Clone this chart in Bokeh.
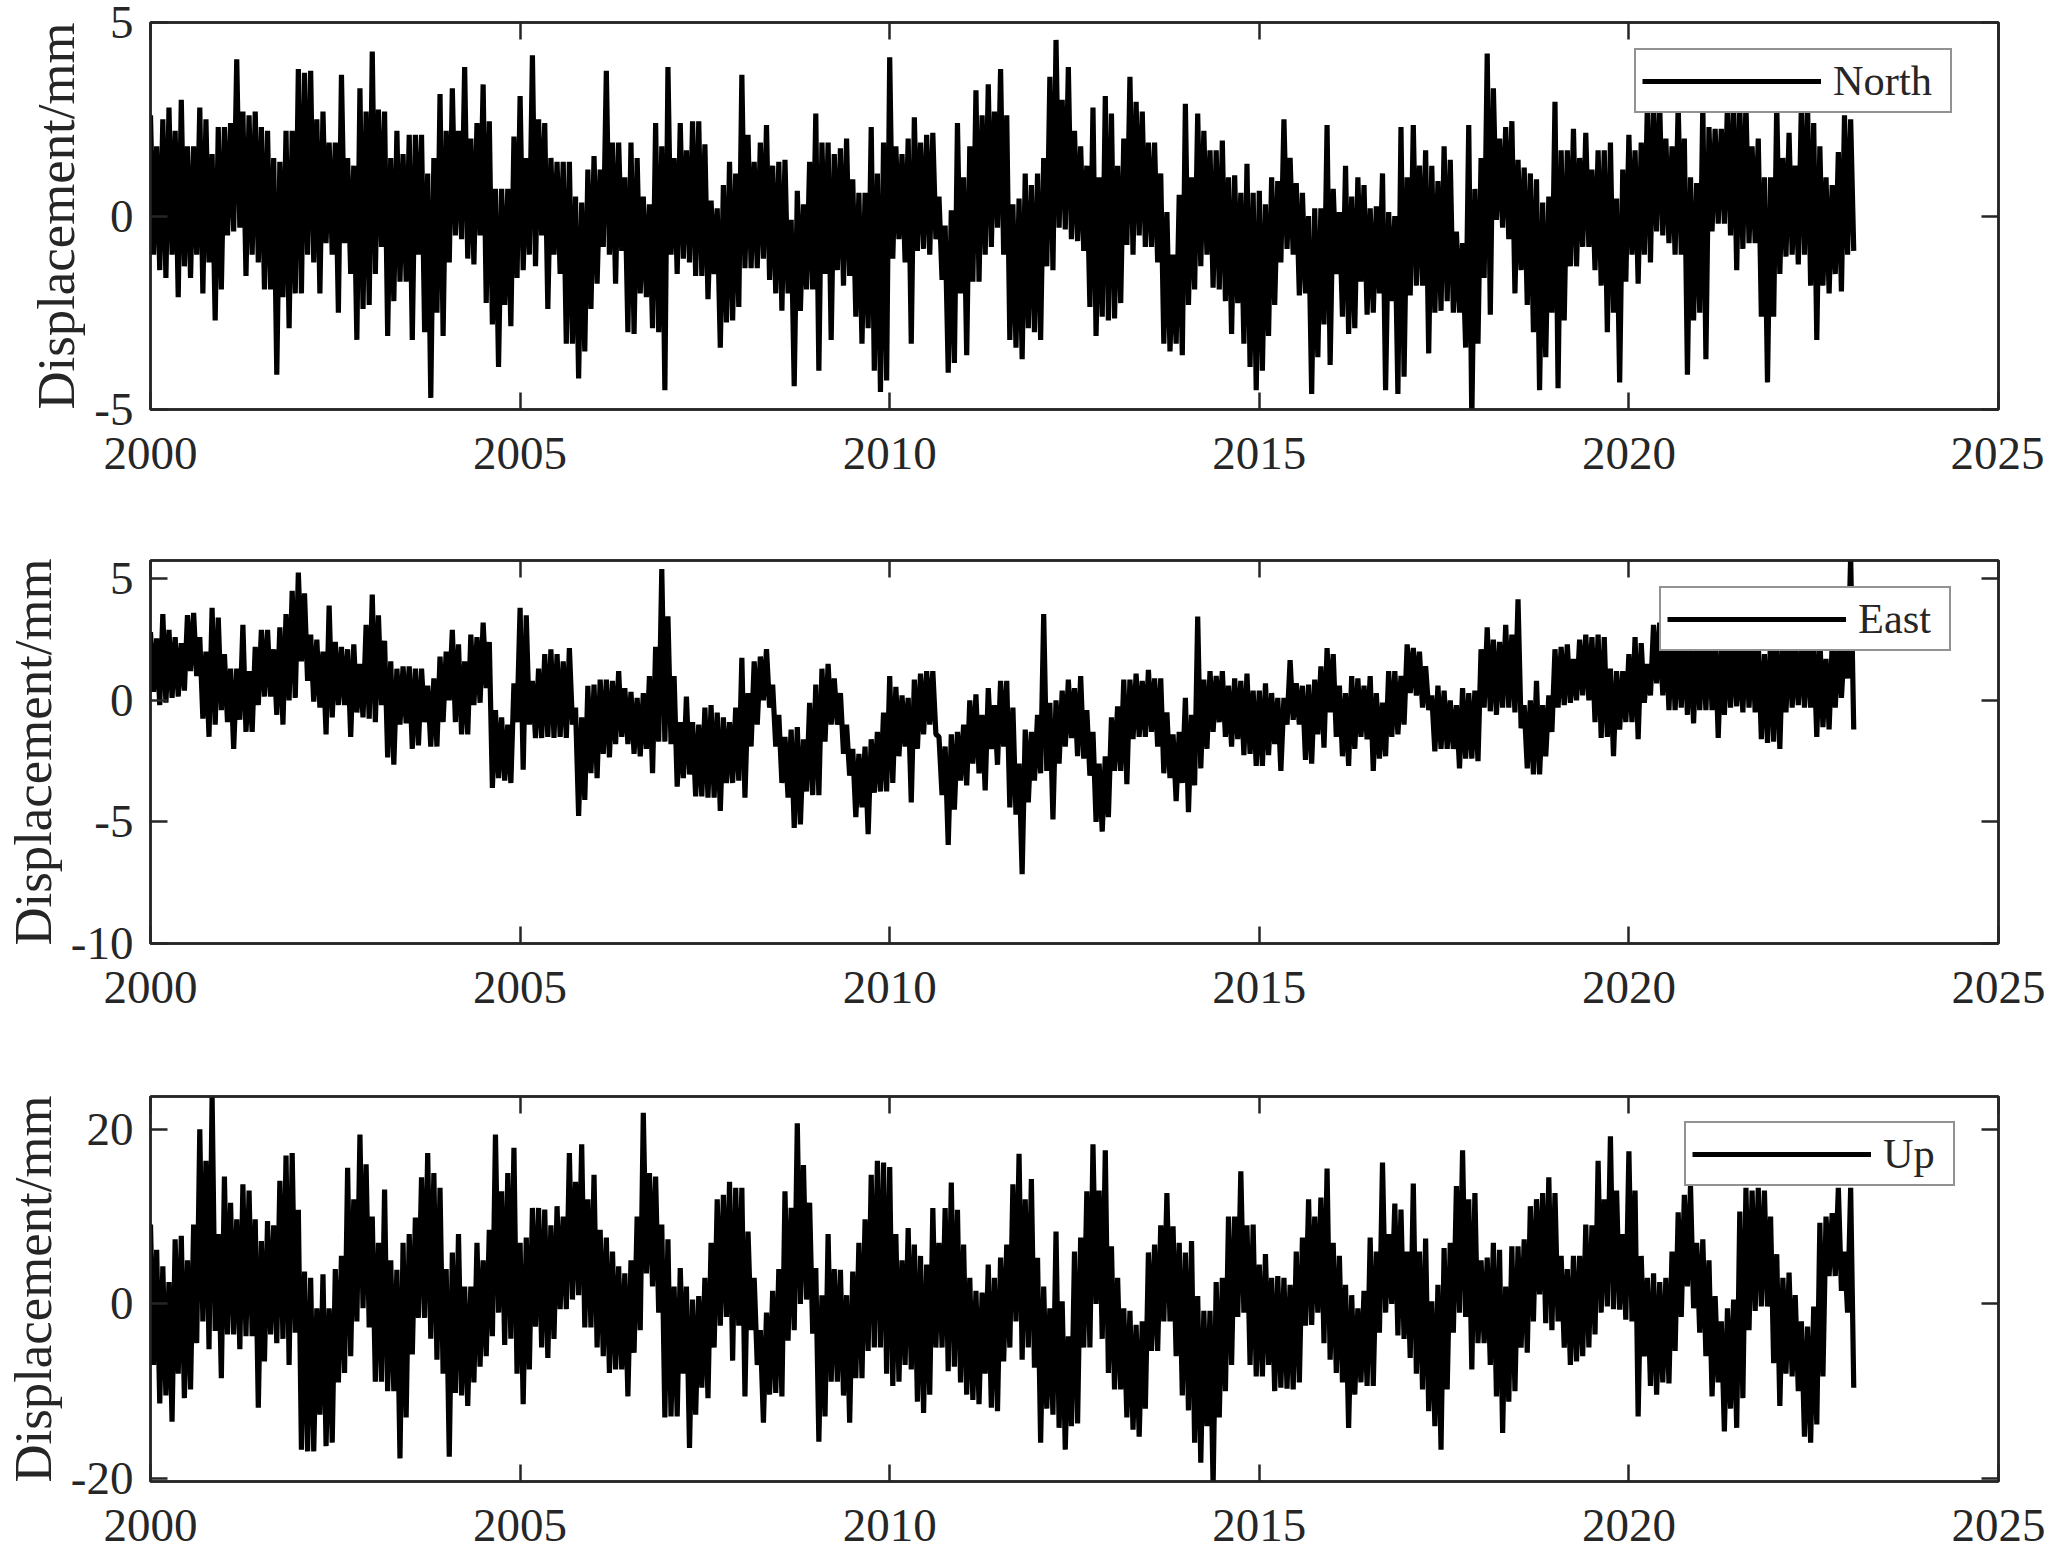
import numpy as np
from bokeh.embed import file_html
from bokeh.layouts import column
from bokeh.models import FixedTicker, Legend, LegendItem, LinearAxis, Range1d
from bokeh.plotting import figure
from bokeh.resources import INLINE

# values, 24 per year (peak, trough, peak, ...)
north = [
    2.6,-1.0, 1.8,-1.4, 2.5,-1.6, 2.8,-1.0, 2.2,-2.1, 3.0,-1.3, 1.8,-1.6, 1.8,-1.0, 2.8,-2.0, 2.5,-1.2, 1.6,-2.7, 2.3,-1.9,
    2.3,-0.5, 2.4,-0.4, 4.05,-0.3, 2.7,-1.55, 2.6,-1.0, 2.7,-1.2, 2.3,-1.9, 2.2,-1.9, 1.5,-4.1, 1.4,-2.1, 2.2,-2.9, 2.2,-2.0,
    3.8,-2.0, 3.7,-1.0, 3.75,-1.2, 2.5,-2.0, 2.7,-0.7, 1.9,-1.0, 1.9,-2.5, 3.65,-0.7, 1.5,-1.5, 1.3,-3.2, 3.3,-2.4, 2.7,-2.3,
    4.25,-1.5, 2.75,-0.8, 2.7,-3.1, 1.5,-2.2, 2.2,-1.7, 1.6,-1.7, 2.1,-3.2, 2.1,-1.0, 2.1,-3.0, 1.1,-4.7, 1.5,-2.5, 3.15,-3.1,
    2.2,-1.2, 3.3,-0.5, 2.2,-0.6, 3.85,-1.1, 2.0,-1.25, 2.4,-0.5, 3.4,-2.25, 2.45,-2.8, 0.7,-3.9, 0.7,-2.3, 0.7,-2.85, 2.05,-1.6,
    3.1,-1.4, 1.5,-1.0, 4.15,-1.3, 2.5,-0.5, 2.4,-2.4, 1.5,-1.0, 1.4,-1.5, 1.4,-3.3, 1.4,-3.3, 0.5,-4.2, 0.35,-3.5, 1.2,-2.4,
    1.55,-1.75, 1.2,-0.8, 3.75,-1.0, 1.9,-1.75, 1.9,-0.9, 1.0,-3.0, 1.9,-3.05, 1.5,-2.0, 0.5,-2.1, 0.3,-2.9, 2.4,-3.0, 1.8,-4.5,
    3.85,-1.0, 1.5,-1.5, 2.4,-1.1, 1.7,-1.2, 2.45,-1.55, 2.45,-1.55, 1.85,-2.15, 0.4,-1.5, 0.2,-3.4, 0.8,-2.75, 1.4,-2.7, 1.1,-2.35,
    3.65,-1.35, 2.1,-1.35, 1.4,-1.35, 1.9,-1.1, 2.35,-1.65, 1.3,-2.0, 1.4,-2.45, 1.45,-2.0, -0.1,-4.4, 0.65,-2.45, 0.3,-1.9, 1.4,-1.9,
    2.65,-4.0, 1.9,-1.5, 1.9,-3.2, 1.6,-1.4, 1.75,-1.8, 2.0,-1.55, 0.95,-2.6, 0.6,-3.3, 0.6,-2.9, 2.3,-4.0, 1.1,-4.55, 1.9,-4.25,
    4.1,-1.1, 1.8,-0.6, 1.6,-1.2, 2.0,-3.3, 2.55,-0.9, 1.9,-0.85, 2.1,-1.0, 2.15,-0.6, 0.5,-1.65, -0.25,-4.05, 0.15,-3.8, 2.4,-2.0,
    1.0,-3.6, 1.8,-1.7, 3.25,-1.7, 2.6,-1.0, 3.4,-0.8, 2.7,-0.3, 3.8,-1.0, 2.6,-3.2, 0.3,-3.4, 0.45,-3.7, 1.1,-2.9, 0.8,-3.0,
    1.1,-3.2, 1.5,-1.3, 3.6,-1.4, 4.55,-0.3, 3.0,-0.35, 3.85,-0.6, 2.2,-0.65, 1.8,-0.9, 1.3,-2.35, 2.8,-3.1, 1.0,-2.6, 3.1,-2.7,
    2.65,-2.65, 1.3,-2.25, 2.0,-0.75, 3.6,-1.0, 2.95,-0.5, 2.7,-0.8, 1.9,-0.8, 1.9,-1.2, 1.1,-3.3, 0.1,-3.5, -1.0,-3.3, 0.55,-3.6,
    2.9,-2.3, 1.0,-1.9, 2.65,-1.3, 2.2,-1.0, 1.7,-1.85, 1.7,-1.9, 1.95,-2.2, 1.0,-3.05, 1.05,-2.25, 0.6,-3.3, 1.35,-3.9, 0.6,-4.5,
    0.65,-4.0, 0.3,-3.1, 1.0,-2.3, 0.9,-1.2, 2.5,-0.85, 1.5,-1.0, 0.85,-2.05, 0.6,-2.0, 0.0,-4.6, 0.2,-3.65, 0.2,-2.8, 2.35,-3.85,
    0.7,-1.5, 0.1,-2.6, 1.3,-3.05, 0.5,-2.9, 1.0,-1.7, 0.8,-2.55, 0.2,-2.5, 0.25,-2.0, 1.1,-4.5, 0.1,-2.2, 0.0,-4.6, 2.3,-4.15,
    1.0,-2.05, 2.35,-1.8, 1.3,-1.8, 1.7,-3.55, 1.3,-2.5, 0.9,-2.45, 1.8,-2.2, 1.45,-2.5, -0.4,-2.5, -0.7,-3.4, 2.35,-5.3, 0.7,-3.3,
    1.5,-1.6, 4.2,-2.55, 3.3,-0.1, 2.0,-0.3, 2.3,-0.6, 2.45,-2.0, 1.45,-1.4, 1.25,-2.3, 1.1,-3.0, 0.95,-4.5, 0.35,-3.65, 0.5,-2.5,
    2.95,-4.45, 1.7,-2.7, 1.7,-1.3, 2.25,-1.3, 1.5,-0.8, 2.15,-0.8, 1.2,-1.4, 1.7,-1.8, 1.7,-3.0, 1.9,-2.5, 0.45,-4.3, 1.2,-1.7,
    2.1,-1.0, 1.7,-1.75, 1.9,-1.0, 2.9,-1.2, 2.9,-0.4, 2.9,-0.5, 2.0,-0.7, 1.8,-1.0, 2.9,-1.0, 2.0,-4.1, 1.0,-2.7, 0.85,-2.5,
    2.9,-3.7, 2.3,-0.4, 2.25,-0.2, 2.25,-0.2, 2.9,-0.5, 2.9,-1.4, 2.9,-0.85, 2.9,-0.7, 1.8,-0.7, 2.0,-2.6, 1.0,-4.3, 1.0,-2.6,
    2.9,-1.5, 1.5,-1.05, 2.15,-1.0, 1.3,-1.25, 2.9,-1.0, 2.9,-1.8, 2.4,-3.2, 1.8,-1.8, 1.0,-2.0, 0.8,-1.5, 1.65,-1.95, 2.6,-1.0,
    2.5,-0.9,
]
east = [
    2.8,0.35, 2.55,-0.2, 3.55,-0.1, 2.9,0.1, 2.6,0.15, 2.35,0.4, 3.5,1.2, 3.6,1.0, 2.6,-0.75, 2.0,-1.5, 3.8,-1.0, 3.4,-0.4,
    1.9,-0.9, 1.3,-2.0, 1.3,-0.8, 3.1,-1.3, 1.2,-1.3, 2.2,-0.2, 2.9,0.15, 2.9,0.15, 2.1,-0.6, 3.0,-1.0, 3.55,0.0, 4.5,0.1,
    5.25,1.6, 4.4,0.8, 2.7,-0.05, 2.5,-0.3, 2.0,-1.4, 3.9,-0.7, 2.4,-0.2, 2.2,-0.2, 2.1,-1.5, 2.3,-0.5, 1.5,-0.7, 3.1,-0.75,
    4.35,-0.9, 3.5,-0.2, 2.45,-2.35, 1.6,-2.65, 1.3,-1.0, 1.4,-0.95, 1.4,-2.0, 1.3,-1.85, 1.3,-0.9, 0.6,-1.9, 0.9,-1.9, 1.8,-0.9,
    2.0,0.0, 2.9,-0.9, 2.3,-1.4, 1.6,-1.4, 2.7,-0.2, 2.6,-0.1, 3.2,0.5, 2.4,-3.6, -0.4,-3.2, -0.7,-3.3, -1.0,-3.4, 0.7,-0.9,
    3.8,-2.85, 3.5,-1.0, 0.8,-1.55, 1.3,-1.55, 1.9,-1.5, 2.1,-1.55, 1.9,-1.5, 1.6,-1.55, 2.15,-1.0, -0.3,-4.75, -0.7,-4.1, 0.6,-3.0,
    0.65,-3.2, 0.85,-2.2, 0.85,-2.35, 0.8,-1.8, 1.2,-1.5, 0.5,-1.8, 0.35,-2.2, 0.1,-2.3, 0.3,-2.0, 1.0,-3.0, 2.2,-1.7, 5.4,-1.7,
    3.45,-1.8, 1.0,-3.55, -0.9,-3.2, 0.15,-3.05, -0.9,-3.95, -1.0,-3.95, -0.3,-4.0, -0.2,-4.0, -0.5,-4.55, -0.7,-3.4, -0.9,-3.4, -0.3,-3.3,
    1.75,-4.0, 0.3,-1.9, 1.6,-1.0, 1.8,0.0, 2.1,-0.3, 0.65,-1.9, -0.6,-3.4, -1.5,-4.0, -1.2,-5.25, -1.1,-5.1, -1.6,-3.75, -0.1,-3.9,
    0.65,-3.9, 1.3,-1.7, 1.5,-1.0, 0.9,-1.0, 0.3,-2.2, -1.0,-3.1, -2.0,-4.8, -2.2,-4.4, -1.9,-5.5, -1.6,-3.8, -1.3,-3.75, -0.5,-3.75,
    1.0,-3.4, 0.55,-2.3, 0.2,-1.9, 0.1,-4.2, 0.85,-2.0, 1.1,-1.4, 1.2,-1.0, 1.2,-1.4, -1.5,-3.9, -1.9,-5.95, -1.4,-4.5, -1.3,-3.3,
    -1.0,-3.5, 0.0,-2.6, 0.25,-3.0, -0.6,-3.7, 0.5,-2.0, -0.2,-2.65, 0.8,-1.9, 0.8,-4.4, -0.3,-4.7, -2.6,-7.15, -1.2,-4.2, -1.3,-3.3,
    -0.6,-3.0, 3.55,-2.9, -0.1,-4.9, 0.0,-2.6, 0.4,-1.9, 0.85,-1.55, 0.5,-2.3, 1.0,-2.4, -0.4,-3.1, -1.3,-5.0, -2.6,-5.4, -2.3,-4.8,
    -0.7,-2.9, -0.25,-2.9, 0.85,-3.45, 0.85,-1.6, 1.1,-1.5, 0.8,-1.5, 1.25,-1.3, 0.9,-1.9, 0.9,-3.0, -0.5,-3.2, -1.4,-4.15, -1.3,-3.4,
    0.1,-4.6, -0.6,-3.5, 3.45,-2.8, 0.85,-2.0, 1.2,-1.3, 1.0,-0.9, 1.2,-1.5, 0.6,-1.9, 0.9,-1.6, 0.8,-2.25, 1.1,-2.2, 0.4,-2.7,
    0.4,-2.7, 0.7,-2.25, 0.3,-1.8, 0.1,-2.9, 0.1,-1.0, 1.65,-0.8, 0.7,-1.0, 0.6,-2.45, 0.65,-2.6, 0.85,-1.4, 1.4,-1.95, 2.15,-0.5,
    1.9,-1.5, 0.6,-2.3, 0.3,-2.7, 1.0,-2.0, 0.9,-1.5, 0.6,-1.6, 1.0,-2.9, 0.3,-2.4, -0.1,-2.3, 1.2,-1.5, 1.2,-1.4, 1.0,-1.0,
    2.3,0.3, 2.15,0.2, 2.0,-0.3, 1.4,-0.4, 0.2,-2.1, 0.6,-2.0, 0.4,-2.0, 0.0,-2.0, -0.2,-2.8, 0.5,-2.4, 0.3,-2.4, 0.4,-2.5,
    2.1,-0.3, 3.0,-0.45, 2.5,-0.6, 2.4,-0.3, 3.1,-0.3, 2.7,-0.5, 4.15,-1.15, -0.2,-2.8, 0.0,-3.05, 0.8,-3.05, -0.2,-2.3, 0.2,-1.3,
    2.1,-0.3, 2.2,-0.2, 2.3,-0.1, 1.7,0.0, 2.5,0.2, 2.7,0.0, 2.6,-0.9, 2.7,-1.55, 2.6,-1.5, 1.3,-2.3, 1.2,-1.2, 1.2,-0.9,
    1.9,-0.9, 2.6,-1.6, 2.35,-0.1, 1.5,0.2, 3.1,0.7, 3.2,0.2, 2.8,-0.4, 2.9,-0.4, 2.5,-0.3, 2.8,-0.6, 2.4,-0.95, 2.6,-0.4,
    2.7,-0.4, 3.0,-0.4, 2.6,-1.55, 2.3,-0.6, 2.8,-0.3, 2.6,-0.25, 2.3,-0.5, 2.9,-0.3, 2.5,-0.5, 2.4,-1.6, 1.9,-1.75, 2.6,-1.7,
    2.7,-2.0, 2.4,-0.5, 2.8,-0.3, 2.2,-0.2, 2.5,-0.3, 2.6,-0.3, 2.3,-1.5, 2.6,-1.1, 1.7,-1.2, 2.3,-0.3, 2.5,0.1, 2.4,0.9,
    5.9,-1.2,
]
up = [
    9.1,-7.0, 6.2,-11.4, 4.3,-10.5, 2.5,-13.5, 7.4,-8.0, 7.8,-10.8, 5.0,-9.8, 9.1,-4.5, 20.0,-2.0, 16.4,-5.2, 23.9,-3.1, 8.0,-8.5,
    14.6,-3.5, 11.6,-3.5, 9.7,-5.2, 13.7,-3.7, 13.0,-3.7, 9.7,-11.9, 7.2,-6.6, 9.5,-3.5, 9.0,-4.5, 14.1,-4.0, 17.0,-7.0, 17.3,-3.3,
    10.8,-16.7, 3.7,-16.9, 3.0,-16.9, -0.5,-12.7, 3.4,-16.3, -0.5,-15.9, 4.0,-9.0, 5.5,-7.9, 15.6,-6.0, 12.0,-2.0, 19.4,-0.5, 16.0,-2.7,
    10.0,-8.9, 7.0,-8.9, 13.1,-10.0, 5.0,-10.0, 3.9,-17.7, 7.0,-13.0, 8.0,-5.8, 9.9,-1.6, 14.5,-1.6, 17.3,-4.0, 15.0,-6.4, 13.3,-8.0,
    4.0,-17.5, 5.9,-10.2, 8.0,-10.5, 2.0,-11.7, 2.0,-9.0, 7.0,-7.2, 5.0,-6.0, 8.5,-3.7, 19.4,-1.0, 12.9,-4.7, 15.0,-4.0, 17.9,-8.0,
    7.0,-11.5, 7.6,-7.5, 11.0,-2.6, 11.0,-5.0, 10.8,-6.2, 9.0,-4.0, 11.2,-0.6, 10.0,-0.6, 17.3,0.5, 14.0,1.0, 18.3,-2.7, 12.0,-2.7,
    14.8,-5.0, 8.5,-6.0, 7.6,-7.9, 6.0,-7.5, 4.3,-7.5, 3.5,-10.6, 5.0,-5.6, 10.0,-3.0, 21.9,3.5, 15.0,2.0, 14.6,-1.0, 9.1,-13.0,
    7.4,-12.9, 2.0,-12.9, 4.1,-8.0, 2.0,-16.5, 0.5,-12.7, 0.9,-9.6, 3.0,-10.8, 7.0,-5.0, 12.0,-2.5, 12.5,-1.5, 14.0,-6.5, 13.3,-2.5,
    13.3,-10.6, 8.3,-3.0, 3.0,-7.0, -3.0,-13.6, -1.0,-10.4, 1.5,-10.2, 4.0,-10.6, 12.9,-4.2, 11.0,-3.0, 20.7,0.0, 15.9,0.5, 11.6,-3.4,
    4.1,-15.8, 1.0,-12.9, 8.0,-8.9, 4.0,-8.9, 3.9,-10.5, 1.0,-13.6, 3.7,-8.5, 7.0,-8.5, 9.7,-5.4, 14.8,-5.0, 16.4,-5.0, 16.2,-8.0,
    15.7,-9.4, 8.0,-8.9, 5.0,-7.0, 8.7,-7.5, 6.8,-11.2, 5.5,-12.5, 4.5,-10.4, 11.0,-5.0, 7.0,-5.0, 11.0,-7.7, 13.9,-7.2, 10.8,-9.0,
    6.8,-10.4, 3.0,-11.0, 1.5,-11.5, 1.3,-8.0, 4.5,-11.9, 3.0,-12.3, 5.3,-6.6, 6.8,-5.0, 13.7,-2.0, 17.2,-6.4, 12.0,-5.0, 14.3,-7.3,
    5.3,-15.9, 2.0,-12.0, -0.5,-12.7, 8.3,-14.2, 0.3,-16.7, -3.7,-14.0, 6.0,-13.7, 7.6,-5.0, 12.9,-5.0, 18.3,0.0, 13.0,-4.0, 17.6,-7.9,
    6.6,-9.8, 3.0,-9.8, -0.5,-13.0, -0.8,-14.4, -2.4,-15.2, -2.0,-12.0, 5.9,-5.4, 6.8,-5.4, 9.0,-2.0, 12.7,-2.0, 8.9,-6.0, 7.0,-10.5,
    5.9,-12.2, 7.2,-15.9, 0.9,-18.2, -0.8,-14.0, -0.8,-21.0, 2.5,-13.0, 3.0,-10.0, 10.0,-7.0, 10.0,-1.5, 15.2,-1.0, 9.0,-7.0, 9.1,-8.3,
    4.5,-8.3, 5.7,-7.0, 3.0,-10.0, 3.2,-9.6, 3.0,-9.7, 2.2,-9.8, 6.0,-9.0, 7.6,-2.5, 12.0,-2.4, 10.0,-1.0, 12.2,-4.5, 15.5,-6.4,
    7.0,-7.9, 5.5,-9.0, 2.2,-14.2, 1.0,-10.4, -0.5,-9.0, 1.5,-9.4, 7.6,-9.4, 6.0,-3.3, 16.2,-1.0, 8.0,0.0, 11.5,-3.6, 10.8,-4.0,
    6.0,-6.2, 13.8,-8.0, 6.0,-9.8, 7.5,-12.3, 0.3,-14.0, 2.2,-16.7, 6.4,-9.8, 7.0,-3.3, 13.5,-1.0, 17.6,-1.5, 12.0,-7.5, 12.7,-4.5,
    5.0,-4.5, 5.3,-7.0, 7.0,-10.6, 6.2,-14.8, 2.0,-11.2, 6.6,-10.0, 6.6,-5.0, 7.4,-5.6, 11.2,-2.0, 12.0,1.1, 12.7,-2.2, 14.5,-3.0,
    12.7,-2.0, 5.5,-5.0, 4.0,-7.0, 5.5,-6.6, 5.5,-6.0, 9.1,-5.0, 9.0,-3.5, 16.4,-1.0, 12.0,-0.3, 19.2,-0.6, 13.0,-0.65, 8.0,-1.8,
    17.5,-2.0, 13.0,-12.9, 5.5,-6.0, 3.0,-9.4, 3.5,-10.4, 2.5,-9.0, 3.0,-9.1, 6.0,-5.4, 10.5,-1.5, 12.5,2.0, 13.5,-0.5, 7.0,-3.3,
    7.4,-6.0, 5.0,-10.6, 0.9,-9.0, -2.0,-14.6, -0.5,-12.0, 0.5,-14.2, 10.6,-10.8, 13.3,-3.0, 13.0,-0.8, 13.3,-0.3, 13.0,-0.3, 10.0,-6.8,
    5.7,-11.7, 3.0,-8.0, 3.6,-8.3, 1.0,-10.0, -2.0,-15.2, -2.6,-15.9, -0.3,-13.8, 9.3,-8.3, 10.0,3.2, 10.4,3.2, 13.3,1.5, 6.0,-1.0,
    13.3,-9.6,
]

year_ticks = [2000, 2005, 2010, 2015, 2020, 2025]
north_ticks = [-5, 0, 5]
east_ticks = [-10, -5, 0, 5]
up_ticks = [-20, 0, 20]

INK = "#262626"
FONT = "Liberation Serif"


def panel(values, name, y_low, y_high, y_ticks, border_top, frame_height, border_bottom, legend_xy, label_width):
    p = figure(
        frame_width=1848,
        frame_height=frame_height,
        min_border_left=140,
        min_border_right=56,
        min_border_top=border_top,
        min_border_bottom=border_bottom,
        x_range=Range1d(2000, 2025),
        y_range=Range1d(y_low, y_high),
        output_backend="svg",
        toolbar_location=None,
        background_fill_color="white",
        border_fill_color="white",
    )
    p.grid.visible = False
    p.outline_line_color = INK
    p.outline_line_width = 2.5

    t = 2000 + np.arange(len(values)) / 24
    r = p.line(t, values, color="black", line_width=5.2, line_join="bevel")

    p.add_layout(LinearAxis(), "above")
    p.add_layout(LinearAxis(), "right")

    for ax in p.xaxis:
        ax.ticker = FixedTicker(ticks=year_ticks, minor_ticks=[])
    for ax in p.yaxis:
        ax.ticker = FixedTicker(ticks=y_ticks, minor_ticks=[])
    for ax in p.xaxis + p.yaxis:
        ax.axis_line_color = INK
        ax.axis_line_width = 2.5
        ax.major_tick_line_color = INK
        ax.major_tick_line_width = 2.5
        ax.major_tick_in = 17
        ax.major_tick_out = 0
        ax.minor_tick_line_color = None
        ax.major_label_text_font = FONT
        ax.major_label_text_color = INK
        ax.major_label_text_font_size = "47px"

    # top and right axes only carry the inward ticks of the box
    for ax in [p.above[0], p.right[0]]:
        ax.major_label_text_color = None
        ax.major_label_text_font_size = "1px"
        ax.major_label_standoff = 0

    p.below[0].major_label_standoff = 28
    p.below[0].major_label_overrides = {y: str(y) for y in year_ticks}

    p.left[0].major_label_standoff = 17
    p.left[0].major_label_overrides = {y: str(y) for y in y_ticks}
    p.left[0].major_label_text_line_height = 1.0
    p.left[0].axis_label = "Displacement/mm"
    p.left[0].axis_label_text_font = FONT
    p.left[0].axis_label_text_font_style = "normal"
    p.left[0].axis_label_text_font_size = "52.8px"
    p.left[0].axis_label_text_color = INK
    p.left[0].axis_label_standoff = 6

    legend = Legend(
        items=[LegendItem(label=name, renderers=[r])],
        location=legend_xy,
        margin=0,
        padding=6,
        spacing=0,
        glyph_width=179,
        glyph_height=28,
        label_height=28,
        label_width=label_width,
        label_standoff=12,
        label_text_font=FONT,
        label_text_font_size="42.4px",
        label_text_color=INK,
        border_line_color=INK,
        border_line_width=2.5,
        background_fill_color="white",
        background_fill_alpha=1,
    )
    p.add_layout(legend, "center")
    return p


fig_north = panel(north, "North", -5, 5, north_ticks, 22, 387, 80, (1484, 296), 111)
fig_east = panel(east, "East", -10, 5.75, east_ticks, 71, 383, 76, (1509, 292), 85)
fig_up = panel(up, "Up", -20.35, 23.77, up_ticks, 77, 385, 70, (1534, 295), 64)

page = column(fig_north, fig_east, fig_up, spacing=0)

open("out.html", "w").write(file_html(page, INLINE))
